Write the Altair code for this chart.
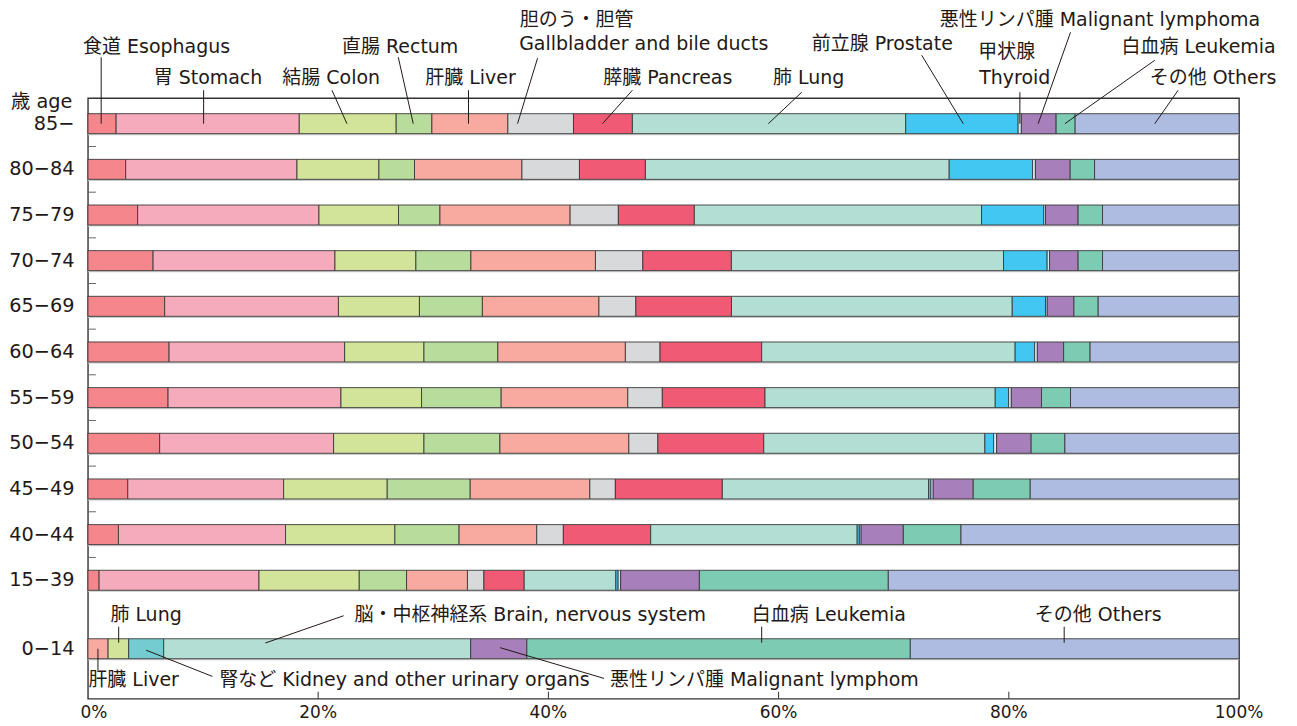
import altair as alt
import pandas as pd

FONT = "DejaVu Sans, Noto Sans CJK JP"
TXT = "#231815"

# ---------------- data ----------------
age_groups = ["85−", "80−84", "75−79", "70−74", "65−69", "60−64",
              "55−59", "50−54", "45−49", "40−44", "15−39"]
child_group = "0−14"

adult_sites = ["食道 Esophagus", "胃 Stomach", "結腸 Colon", "直腸 Rectum",
               "肝臓 Liver", "胆のう・胆管 Gallbladder and bile ducts",
               "膵臓 Pancreas", "肺 Lung", "前立腺 Prostate", "甲状腺 Thyroid",
               "悪性リンパ腫 Malignant lymphoma", "白血病 Leukemia", "その他 Others"]
adult_colors = ["#F4868C", "#F6ABBC", "#D1E49A", "#B7DC9C", "#F9AAA0", "#D8D9DB",
                "#F05A74", "#B3DED4", "#42C7F3", "#D3ECF5", "#A77FBA", "#7DCBB2",
                "#ADBCE0"]

# share (%) of each site, per age group
adult_shares = {
    "85−":   [2.45, 15.91, 8.42, 3.10, 6.60, 5.70, 5.12, 23.74, 9.77, 0.28, 3.02, 1.65, 14.24],
    "80−84": [3.28, 14.88, 7.12, 3.09, 9.33, 5.00, 5.73, 26.39, 7.24, 0.25, 3.02, 2.12, 12.55],
    "75−79": [4.32, 15.75, 6.91, 3.60, 11.31, 4.19, 6.60, 24.95, 5.41, 0.15, 2.83, 2.12, 11.86],
    "70−74": [5.66, 15.80, 7.03, 4.78, 10.82, 4.11, 7.70, 23.64, 3.79, 0.21, 2.48, 2.12, 11.86],
    "65−69": [6.67, 15.10, 7.04, 5.47, 10.13, 3.21, 8.31, 24.40, 2.89, 0.15, 2.32, 2.11, 12.24],
    "60−64": [7.05, 15.25, 6.89, 6.42, 11.08, 3.01, 8.83, 22.02, 1.69, 0.24, 2.28, 2.30, 12.94],
    "55−59": [6.96, 15.02, 7.00, 6.92, 11.00, 3.00, 8.92, 20.00, 1.16, 0.24, 2.62, 2.52, 14.64],
    "50−54": [6.23, 15.11, 7.85, 6.60, 11.20, 2.52, 9.20, 19.21, 0.76, 0.26, 3.00, 2.93, 15.13],
    "45−49": [3.46, 13.54, 9.00, 7.21, 10.39, 2.22, 9.29, 17.92, 0.20, 0.20, 3.48, 4.95, 18.14],
    "40−44": [2.65, 14.52, 9.50, 5.58, 6.75, 2.31, 7.59, 17.94, 0.19, 0.15, 3.67, 5.01, 24.16],
    "15−39": [0.97, 13.89, 8.71, 4.11, 5.29, 1.43, 3.50, 7.96, 0.20, 0.22, 6.84, 16.41, 30.47],
}

child_sites = ["肝臓 Liver", "肺 Lung", "腎など Kidney and other urinary organs",
               "脳・中枢神経系 Brain, nervous system", "悪性リンパ腫 Malignant lymphoma",
               "白血病 Leukemia", "その他 Others"]
child_colors = ["#F9AAA0", "#D1E49A", "#74CCD1", "#B3DED4", "#A77FBA", "#7DCBB2", "#ADBCE0"]
child_shares = [1.75, 1.79, 3.04, 26.67, 4.88, 33.31, 28.56]

# annotation labels (x as share of the row, y in row units)
label_text = ["食道 Esophagus", "胃 Stomach", "結腸 Colon", "直腸 Rectum", "肝臓 Liver",
              "胆のう・胆管", "Gallbladder and bile ducts", "膵臓 Pancreas", "肺 Lung",
              "前立腺 Prostate", "甲状腺", "Thyroid", "悪性リンパ腫 Malignant lymphoma",
              "白血病 Leukemia", "その他 Others",
              "肺 Lung", "脳・中枢神経系 Brain, nervous system", "白血病 Leukemia",
              "その他 Others", "肝臓 Liver", "腎など Kidney and other urinary organs",
              "悪性リンパ腫 Malignant lymphom"]
label_x = [-0.0042, 0.0571, 0.1689, 0.2207, 0.2930, 0.3751, 0.3746, 0.4476, 0.5952,
           0.6288, 0.7734, 0.7743, 0.7401, 0.8979, 0.9224,
           0.0195, 0.2316, 0.5767, 0.8226, 0.0004, 0.1142, 0.4536]
label_y = [-1.685, -0.996, -0.996, -1.674, -0.996, -2.265, -1.740, -0.996, -0.996,
           -1.740, -1.565, -0.996, -2.265, -1.674, -0.996,
           10.755, 10.755, 10.755, 10.755, 12.177, 12.177, 12.177]

# leader lines
line_x1 = [0.0115, 0.1005, 0.212, 0.2696, 0.3306, 0.3906, 0.473, 0.6201, 0.7243,
           0.8096, 0.8536, 0.9268, 0.9471,
           0.0267, 0.2221, 0.5853, 0.8481, 0.0087, 0.0506, 0.3581]
line_y1 = [-1.455, -0.733, -0.733, -1.455, -0.733, -1.433, -0.733, -0.689, -1.499,
           -0.689, -2.002, -1.389, -0.733,
           11.018, 10.777, 11.018, 11.018, 11.50, 11.532, 11.477]
line_x2 = [0.0115, 0.1005, 0.225, 0.2826, 0.3306, 0.3732, 0.447, 0.5911, 0.7604,
           0.8096, 0.8255, 0.8487, 0.9268,
           0.0267, 0.1541, 0.5853, 0.8481, 0.0087, 0.1081, 0.4484]
line_y2 = [0, 0, 0, 0, 0, 0, 0, 0, 0, 0, 0, 0, 0,
           11.368, 11.374, 11.368, 11.368, 11.969, 12.106, 12.15]

x_ticks = [0, 0.2, 0.4, 0.6, 0.8, 1.0]
x_tick_labels = ["0%", "20%", "40%", "60%", "80%", "100%"]

# ---------------- build tables ----------------
rows = []
for i, g in enumerate(age_groups):
    for k, (s, c, v) in enumerate(zip(adult_sites, adult_colors, adult_shares[g])):
        rows.append({"group": g, "pos": i, "site": s, "color": c, "share": v, "order": k})
child_pos = len(age_groups) + 0.5
for k, (s, c, v) in enumerate(zip(child_sites, child_colors, child_shares)):
    rows.append({"group": child_group, "pos": child_pos, "site": s, "color": c,
                 "share": v, "order": k})
df = pd.DataFrame(rows)

positions = list(range(len(age_groups))) + [child_pos]
groups_all = age_groups + [child_group]

rowlab_df = pd.DataFrame({"label": groups_all, "pos": positions})
shadow_df = pd.DataFrame({"pos": positions, "start": 0.0, "end": 1.0})
xlab_df = pd.DataFrame({"t": x_ticks, "label": x_tick_labels})
lab_df = pd.DataFrame({"label": label_text, "x": label_x, "y": label_y})
line_df = pd.DataFrame({"x1": line_x1, "y1": line_y1, "x2": line_x2, "y2": line_y2})
btick_df = pd.DataFrame({"b": [i + 0.5 for i in range(len(age_groups) - 1)]})
xtick_df = pd.DataFrame({"t": x_ticks[1:-1]})
age_df = pd.DataFrame({"label": ["歳 age"], "x": [-0.0135], "y": [-0.48]})

W, H = 1152, 601
xscale = alt.Scale(domain=[0, 1], nice=False, zero=False, padding=0)
yscale = alt.Scale(domain=[-0.558, 12.595], reverse=True, nice=False, zero=False, padding=0)

shadow = alt.Chart(shadow_df).mark_bar(orient="horizontal", size=20, color="#c9c9c9",
                                       yOffset=1.6).encode(
    x=alt.X("start:Q", scale=xscale, axis=None),
    x2="end:Q",
    y=alt.Y("pos:Q", scale=yscale, axis=None),
)

bars = alt.Chart(df).mark_bar(orient="horizontal", size=20, stroke="#3a3a3a",
                              strokeWidth=0.9).encode(
    x=alt.X("share:Q", stack="normalize", scale=xscale, axis=None),
    y=alt.Y("pos:Q", scale=yscale, axis=None),
    color=alt.Color("color:N", scale=None),
    order=alt.Order("order:Q"),
)

row_labels = alt.Chart(rowlab_df).mark_text(align="right", baseline="middle", font=FONT,
                                            fontSize=19.3, color=TXT).encode(
    y=alt.Y("pos:Q", scale=yscale, axis=None),
    x=alt.value(-13.5),
    text="label:N",
)

# first tick label sits flush-ish to the left edge, the others are centred
x_label_first = alt.Chart(xlab_df.iloc[:1]).mark_text(
    align="left", baseline="middle", font=FONT, fontSize=17, color=TXT, dx=-7.5).encode(
    x=alt.X("t:Q", scale=xscale, axis=None),
    y=alt.value(H + 14),
    text="label:N",
)
x_labels = alt.Chart(xlab_df.iloc[1:]).mark_text(
    align="center", baseline="middle", font=FONT, fontSize=17, color=TXT).encode(
    x=alt.X("t:Q", scale=xscale, axis=None),
    y=alt.value(H + 14),
    text="label:N",
)

left_ticks = alt.Chart(btick_df).mark_rule(color="#666666", strokeWidth=1).encode(
    y=alt.Y("b:Q", scale=yscale, axis=None),
    x=alt.value(0), x2=alt.value(8),
)

bottom_ticks = alt.Chart(xtick_df).mark_rule(color="#333333", strokeWidth=1).encode(
    x=alt.X("t:Q", scale=xscale, axis=None),
    y=alt.value(H), y2=alt.value(H - 7),
)

leaders = alt.Chart(line_df).mark_rule(color=TXT, strokeWidth=1).encode(
    x=alt.X("x1:Q", scale=xscale, axis=None),
    y=alt.Y("y1:Q", scale=yscale, axis=None),
    x2="x2:Q", y2="y2:Q",
)

labels = alt.Chart(lab_df).mark_text(align="left", baseline="middle", font=FONT,
                                     fontSize=19, color=TXT).encode(
    x=alt.X("x:Q", scale=xscale, axis=None),
    y=alt.Y("y:Q", scale=yscale, axis=None),
    text="label:N",
)

age_label = alt.Chart(age_df).mark_text(align="right", baseline="middle", font=FONT,
                                        fontSize=19.3, color=TXT).encode(
    x=alt.X("x:Q", scale=xscale, axis=None),
    y=alt.Y("y:Q", scale=yscale, axis=None),
    text="label:N",
)

chart = alt.layer(shadow, bars, left_ticks, bottom_ticks, leaders, labels, age_label,
                  row_labels, x_label_first, x_labels).properties(
    width=W, height=H,
    autosize=alt.AutoSizeParams(type="none"),
    padding={"left": 80, "top": 90, "right": 50, "bottom": 27},
).configure_view(
    stroke="#333333", strokeWidth=1.4,
)

chart.save("out.html", embed_options={"renderer": "svg", "actions": False})
